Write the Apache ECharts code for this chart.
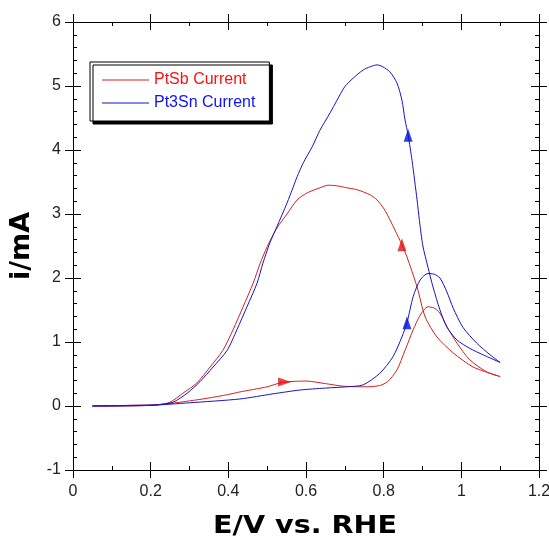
<!DOCTYPE html>
<html>
<head>
<meta charset="utf-8">
<script src="https://cdn.jsdelivr.net/npm/echarts@6/dist/echarts.min.js"></script>
<style>
html,body{margin:0;padding:0;background:#fff;}
#wrap{position:relative;width:549px;height:545px;}
#axes,#chart{position:absolute;left:0;top:0;width:549px;height:545px;}
</style>
</head>
<body>
<div id="wrap"><div id="axes"></div><div id="chart"></div></div>
<script>
// ---- Data ----
var seriesNames = ['PtSb Current', 'Pt3Sn Current'];

// PtSb: forward scan 0.05 -> 1.1 V, then reverse 1.1 -> 0.05 V
var ptsbE = [0.05,0.10,0.20,0.25,0.30,0.345,0.40,0.43,0.50,0.54,0.60,0.65,0.695,0.757,0.79,0.81,0.834,0.855,0.876,0.894,0.914,0.93,0.945,0.963,0.989,1.022,1.066,1.10,
             1.09,1.03,0.979,0.937,0.907,0.886,0.86,0.847,0.829,0.803,0.783,0.765,0.731,0.705,0.68,0.657,0.636,0.603,0.577,0.551,0.525,0.50,0.482,0.464,0.438,0.412,0.386,0.353,0.319,0.283,0.25,0.216,0.15,0.05];
var ptsbI = [0,0,0.01,0.04,0.08,0.12,0.18,0.22,0.30,0.37,0.39,0.35,0.31,0.30,0.32,0.38,0.56,0.87,1.19,1.42,1.55,1.53,1.45,1.24,0.98,0.72,0.53,0.46,
             0.48,0.61,0.83,1.08,1.39,1.86,2.33,2.52,2.75,3.06,3.22,3.30,3.38,3.41,3.44,3.45,3.41,3.33,3.22,3.00,2.78,2.49,2.23,1.92,1.55,1.19,0.87,0.61,0.36,0.20,0.06,0.02,0.01,0];

// Pt3Sn: forward scan 0.05 -> 1.1 V, then reverse 1.1 -> 0.05 V
var pt3snE = [0.05,0.10,0.20,0.30,0.43,0.515,0.585,0.65,0.705,0.747,0.79,0.824,0.847,0.86,0.876,0.894,0.914,0.93,0.945,0.963,0.979,1.004,1.04,1.074,1.10,
              1.056,1.022,0.989,0.963,0.945,0.927,0.914,0.901,0.892,0.886,0.873,0.863,0.855,0.847,0.834,0.816,0.798,0.783,0.765,0.747,0.721,0.70,0.68,0.662,0.636,0.616,0.593,0.577,0.567,0.551,0.525,0.507,0.489,0.474,0.448,0.422,0.397,0.361,0.327,0.294,0.258,0.22,0.15,0.05];
var pt3snI = [0,0,0.01,0.05,0.11,0.19,0.25,0.28,0.30,0.33,0.51,0.77,1.08,1.30,1.71,1.97,2.07,2.06,2.00,1.78,1.53,1.23,0.98,0.80,0.68,
              0.80,0.90,1.03,1.23,1.50,1.86,2.17,2.50,2.90,3.22,3.84,4.23,4.47,4.78,5.05,5.22,5.30,5.33,5.30,5.25,5.12,4.99,4.78,4.58,4.31,4.05,3.80,3.58,3.42,3.17,2.80,2.55,2.23,1.92,1.55,1.19,0.87,0.61,0.38,0.20,0.06,0.02,0.01,0];

// Scan-direction arrow markers (data coordinates, rotation in degrees)
var ptsbArrowE = [0.545, 0.847];
var ptsbArrowI = [0.375, 2.52];
var ptsbArrowRot = [-90, 0];
var pt3snArrowE = [0.863, 0.86];
var pt3snArrowI = [4.23, 1.30];
var pt3snArrowRot = [0, 0];

// Axis ranges / ticks
var xMin = 0, xMax = 1.2, xStep = 0.2;
var yMin = -1, yMax = 6, yStep = 1;

// ---- Build ----
function pairs(xs, ys){ return xs.map(function(x,i){ return [x, ys[i]]; }); }
function arrowPts(xs, ys, rs){ return xs.map(function(x,i){ return {value:[x, ys[i]], symbolRotate: rs[i]}; }); }

var RED = '#d42020', BLUE = '#1414c8';
var FONT = '"Liberation Sans", Arial, sans-serif';
var gridBox = {left:73, right:10, top:22, bottom:75, containLabel:false, outerBoundsMode:'none'};

// Layer 1: axis frame with crossing major ticks and inward minor ticks
function xFrame(grid, pos, inside){
  return {
    type:'value', gridIndex:grid, position:pos, min:xMin, max:xMax, interval:xStep,
    axisLine:{show:inside, onZero:false, lineStyle:{color:'#000', width:1}},
    axisTick:{show:true, inside:inside, length:8, lineStyle:{color:'#000', width:1}},
    minorTick:{show:inside, splitNumber:2, length:4, lineStyle:{color:'#000', width:1}},
    axisLabel:{show:false}, splitLine:{show:false}
  };
}
function yFrame(grid, pos, inside){
  return {
    type:'value', gridIndex:grid, position:pos, min:yMin, max:yMax, interval:yStep,
    axisLine:{show:inside, onZero:false, lineStyle:{color:'#000', width:1}},
    axisTick:{show:true, inside:inside, length:8, lineStyle:{color:'#000', width:1}},
    minorTick:{show:inside, splitNumber:5, length:4, lineStyle:{color:'#000', width:1}},
    axisLabel:{show:false}, splitLine:{show:false}
  };
}
var axesChart = echarts.init(document.getElementById('axes'), null, {renderer:'canvas'});
axesChart.setOption({
  animation:false,
  grid:[Object.assign({}, gridBox), Object.assign({}, gridBox)],
  xAxis:[xFrame(0,'bottom',true), xFrame(0,'top',true), xFrame(1,'bottom',false), xFrame(1,'top',false)],
  yAxis:[yFrame(0,'left',true), yFrame(0,'right',true), yFrame(1,'left',false), yFrame(1,'right',false)],
  series:[{type:'line', data:[], xAxisIndex:0, yAxisIndex:0}]
});

// Layer 2: tick labels, curves, arrows, legend, titles (transparent background)
var chart = echarts.init(document.getElementById('chart'), null, {renderer:'canvas'});
chart.setOption({
  animation:false,
  grid:Object.assign({}, gridBox),
  xAxis:{type:'value', min:xMin, max:xMax, interval:xStep,
    axisLine:{show:false, onZero:false}, axisTick:{show:false}, splitLine:{show:false},
    axisLabel:{show:true, margin:14, fontFamily:FONT, fontSize:16, color:'#222'}},
  yAxis:{type:'value', min:yMin, max:yMax, interval:yStep,
    axisLine:{show:false, onZero:false}, axisTick:{show:false}, splitLine:{show:false},
    axisLabel:{show:true, margin:12, fontFamily:FONT, fontSize:16, color:'#222'}},
  legend:{
    orient:'vertical', left:90, top:62,
    data:[{name:seriesNames[0], icon:'rect', textStyle:{color:'#ff1010'}}, {name:seriesNames[1], icon:'rect', textStyle:{color:'#1010ff'}}],
    itemWidth:47, itemHeight:1, itemGap:5,
    padding:[9,14,9,12],
    textStyle:{fontFamily:FONT, fontSize:16, lineHeight:18},
    backgroundColor:'#fff', borderColor:'#000', borderWidth:1,
    shadowColor:'#000', shadowBlur:0, shadowOffsetX:3, shadowOffsetY:3
  },
  series:[
    {name:seriesNames[0], type:'line', data:pairs(ptsbE, ptsbI), symbol:'none', smooth:0.25,
     lineStyle:{color:RED, width:1}, itemStyle:{color:RED}},
    {name:seriesNames[1], type:'line', data:pairs(pt3snE, pt3snI), symbol:'none', smooth:0.25,
     lineStyle:{color:BLUE, width:1}, itemStyle:{color:BLUE}},
    {name:'ptsbArrows', type:'scatter', data:arrowPts(ptsbArrowE, ptsbArrowI, ptsbArrowRot),
     symbol:'triangle', symbolSize:[9,13], itemStyle:{color:'#e01010'}, z:5},
    {name:'pt3snArrows', type:'scatter', data:arrowPts(pt3snArrowE, pt3snArrowI, pt3snArrowRot),
     symbol:'triangle', symbolSize:[9,13], itemStyle:{color:'#0010e0'}, z:5}
  ],
  graphic:[
    {type:'text', x:305, y:527, scaleX:1.19,
     style:{text:'E/V vs. RHE', font:'bold 24px "DejaVu Sans"', fill:'#000', align:'center', verticalAlign:'middle'}},
    {type:'text', x:22, y:246, rotation:Math.PI/2,
     style:{text:'i/mA', font:'bold 27px "DejaVu Sans"', fill:'#000', align:'center', verticalAlign:'middle'}}
  ]
});
</script>
</body>
</html>
